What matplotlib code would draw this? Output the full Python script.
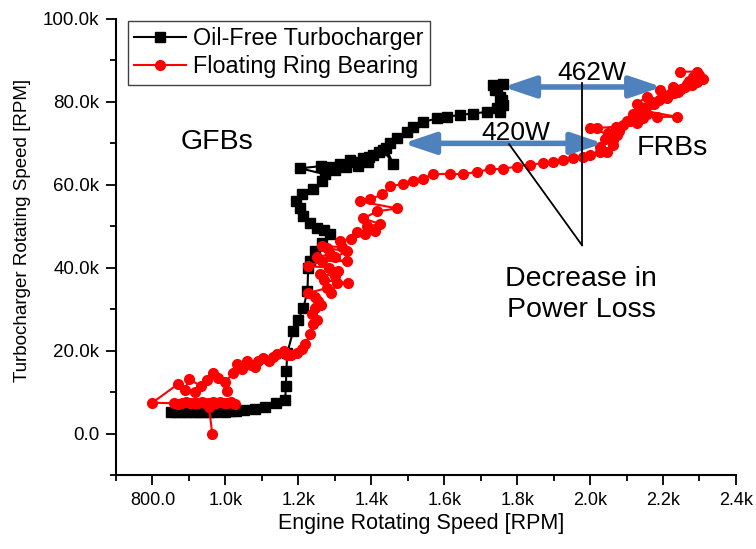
import matplotlib
matplotlib.use("Agg")
import matplotlib.pyplot as plt

plt.rcParams['font.family'] = ['Liberation Sans', 'DejaVu Sans']

# ---------------- data ----------------
black_x = [850, 865, 880, 895, 910, 925, 940, 955, 970, 985, 1000, 1015, 1030, 1050, 1080, 1110,
           1140, 1164, 1166, 1167, 1170, 1186, 1200, 1214, 1225, 1227, 1233, 1247, 1266, 1288, 1270,
           1252, 1233, 1214, 1205, 1195, 1211, 1241, 1266, 1274, 1205, 1262, 1288, 1300, 1315, 1320,
           1342, 1330, 1350, 1365, 1378, 1395, 1405, 1390, 1420, 1433, 1460, 1440, 1452, 1471, 1499,
           1515, 1542, 1581, 1608, 1644, 1679, 1718, 1753, 1745, 1762, 1758, 1753, 1740, 1745, 1734,
           1760]
black_y = [5200, 5200, 5300, 5200, 5300, 5200, 5300, 5200, 5300, 5400, 5300, 5400, 5500, 5600,
           6000, 6500, 7300, 8200, 11500, 15100, 19500, 24800, 27500, 30300, 34400, 39900, 41600,
           44000, 45900, 48100, 49000, 49500, 50700, 52400, 54300, 56000, 57700, 58900, 60800, 62500,
           64000, 64500, 64400, 63500, 65100, 64800, 65900, 64300, 65500, 64600, 66400, 66800, 67300,
           65500, 67800, 68500, 65000, 69000, 70000, 71200, 72800, 74000, 75200, 76000, 76400, 76900,
           77200, 77600, 77600, 78500, 79300, 80500, 81300, 82900, 83500, 84100, 84300]

red_x = [964, 955, 1027, 1015, 1005, 995, 986, 975, 965, 955, 945, 935, 925, 915, 904, 892, 880,
         870, 858, 800, 871, 890, 899, 932, 918, 950, 967, 980, 1005, 1000, 1020, 1033, 1045, 1060,
         1070, 1080, 1090, 1104, 1120, 1130, 1142, 1160, 1170, 1180, 1197, 1210, 1219, 1233, 1241,
         1250, 1238, 1247, 1262, 1255, 1245, 1227, 1279, 1290, 1307, 1337, 1270, 1260, 1300, 1310,
         1285, 1227, 1266, 1334, 1250, 1288, 1300, 1334, 1279, 1266, 1320, 1315, 1345, 1360, 1384,
         1411, 1389, 1425, 1378, 1416, 1471, 1370, 1397, 1430, 1452, 1488, 1515, 1542, 1570, 1616,
         1652, 1690, 1726, 1762, 1800, 1836, 1870, 1899, 1925, 1953, 1980, 2000, 2027, 2047, 2027,
         2040, 2063, 2074, 2050, 2063, 2019, 2000, 2070, 2080, 2090, 2129, 2110, 2100, 2145, 2130,
         2118, 2156, 2184, 2238, 2140, 2150, 2164, 2129, 2156, 2175, 2170, 2190, 2192, 2210, 2219,
         2200, 2227, 2230, 2240, 2250, 2260, 2266, 2270, 2280, 2293, 2300, 2310, 2282, 2293, 2247]
red_y = [0, 6300, 7200, 7500, 7300, 7400, 7500, 7300, 7500, 7400, 7300, 7500, 7400, 7300, 7300,
         7500, 7400, 7200, 7300, 7450, 12000, 10500, 13200, 11500, 10000, 12800, 14700, 13500, 10300,
         12500, 14500, 16800, 15500, 17500, 16500, 16000, 17500, 18300, 17500, 18500, 19200, 19800,
         19000, 19000, 19500, 20500, 21600, 24000, 26400, 27500, 28800, 30300, 31000, 32000, 33000,
         33900, 35100, 34000, 36300, 36300, 37000, 38500, 38000, 39200, 40000, 40400, 41600, 41600,
         42500, 43300, 42500, 44000, 44700, 45200, 45000, 46400, 47000, 48500, 48100, 48800, 50000,
         50500, 51900, 53600, 54300, 56000, 56500, 57700, 59600, 60300, 60800, 61500, 62500, 62700,
         62500, 63200, 63700, 63900, 64400, 64900, 65200, 65600, 66000, 66400, 66800, 67300, 68000,
         68000, 69200, 71000, 69700, 72100, 72500, 70900, 73600, 73600, 74000, 73000, 74500, 74800,
         75500, 75500, 76000, 77000, 77200, 77200, 76400, 76400, 78000, 78500, 79600, 79600, 81300,
         79500, 80000, 80500, 82900, 81000, 82000, 81500, 83700, 82200, 82500, 83000, 83500, 84400,
         85000, 84000, 84900, 86500, 85600, 86100, 87300, 87300]

series_labels = ["Oil-Free Turbocharger", "Floating Ring Bearing"]

x_ticks = [800, 1000, 1200, 1400, 1600, 1800, 2000, 2200, 2400]
x_tick_labels = ["800.0", "1.0k", "1.2k", "1.4k", "1.6k", "1.8k", "2.0k", "2.2k", "2.4k"]
y_ticks = [0, 20000, 40000, 60000, 80000, 100000]
y_tick_labels = ["0.0", "20.0k", "40.0k", "60.0k", "80.0k", "100.0k"]

# annotation anchors (data coords)
arrow_462 = ((1762, 83600), (2197, 83600))
arrow_420 = ((1488, 70000), (2036, 70000))
pointer_vertical = ((1978, 84500), (1978, 45400))
pointer_diag = ((1778, 69800), (1978, 45400))

# ---------------- figure ----------------
fig = plt.figure(figsize=(7.56, 5.49), dpi=100)
ax = fig.add_axes([0.1534, 0.1348, 0.8201, 0.8306])

ax.plot(black_x, black_y, color='black', lw=1.5, marker='s', markersize=6.5,
        label=series_labels[0], zorder=3)
ax.plot(red_x, red_y, color='#ff0000', lw=1.5, marker='o', markersize=7,
        label=series_labels[1], zorder=4)

ax.set_xlim(700, 2400)
ax.set_ylim(-10000, 100000)
ax.set_xticks(x_ticks)
ax.set_xticklabels(x_tick_labels)
ax.set_yticks(y_ticks)
ax.set_yticklabels(y_tick_labels)
ax.set_xticks(list(range(700, 2401, 100)), minor=True)
ax.set_yticks(list(range(-10000, 100001, 10000)), minor=True)

for s in ['top', 'right']:
    ax.spines[s].set_visible(False)
for s in ['left', 'bottom']:
    ax.spines[s].set_linewidth(1.5)

ax.tick_params(axis='both', which='major', direction='out', length=7, width=1.3, pad=5)
ax.tick_params(axis='both', which='minor', direction='out', length=4, width=1.3)
ax.tick_params(axis='x', labelsize=13)
ax.tick_params(axis='y', labelsize=13.5)

ax.set_xlabel("Engine Rotating Speed [RPM]", fontsize=15.5)
ax.set_ylabel("Turbocharger Rotating Speed [RPM]", fontsize=13.5)
ax.xaxis.set_label_coords(0.492, -0.107)
ax.xaxis.label.set_va('center')
ax.yaxis.set_label_coords(-0.150, 0.537)
ax.yaxis.label.set_va('center')

leg = ax.legend(loc='upper left', bbox_to_anchor=(0.019, 0.996), borderaxespad=0,
                fontsize=16.8, frameon=True, fancybox=False, edgecolor='#404040',
                framealpha=1, handlelength=2.2, handletextpad=0.3, labelspacing=0.22,
                borderpad=0.28, numpoints=1)
leg.get_frame().set_linewidth(1.0)

arrow_color = '#4f81bd'
for (p0, p1) in [arrow_462, arrow_420]:
    ax.annotate('', xy=p1, xytext=p0,
                arrowprops=dict(arrowstyle='<|-|>,head_length=0.95,head_width=0.32',
                                color=arrow_color, lw=4, mutation_scale=20,
                                shrinkA=0, shrinkB=0), zorder=5)

for (p0, p1) in [pointer_vertical, pointer_diag]:
    ax.plot([p0[0], p1[0]], [p0[1], p1[1]], color='black', lw=1.3, zorder=6)

ax.text(2005, 86900, "462W", fontsize=19, ha='center', va='center', zorder=7)
ax.text(1795, 72600, "420W", fontsize=19, ha='center', va='center', zorder=7)
ax.text(978, 70300, "GFBs", fontsize=20.5, ha='center', va='center')
ax.text(2225, 68800, "FRBs", fontsize=20.5, ha='center', va='center', zorder=7)
ax.text(1975, 33600, "Decrease in\nPower Loss", fontsize=20.5, ha='center', va='center',
        linespacing=1.25)

fig.savefig("out.png", dpi=100)
